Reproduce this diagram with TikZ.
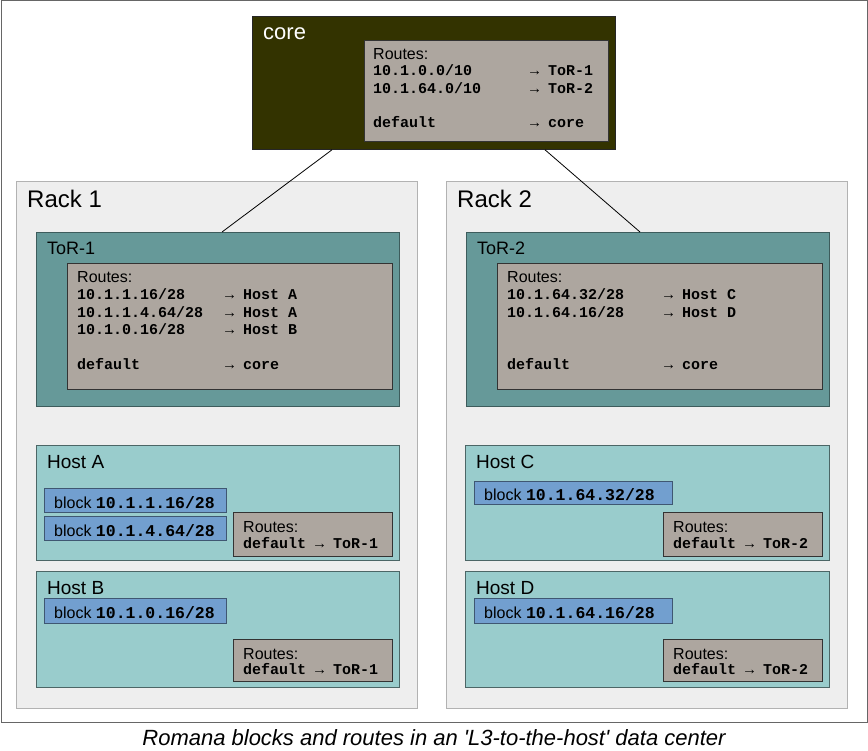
\documentclass[tikz,border=0pt]{standalone}
\usepackage{fontspec}
\setmainfont{Liberation Sans}
\setmonofont{Liberation Mono}
\usepackage{tikz}
\usetikzlibrary{positioning}
\usetikzlibrary{calc}

\definecolor{coreolive}{HTML}{333300}
\definecolor{routegray}{HTML}{ADA69F}
\definecolor{torteal}{HTML}{669999}
\definecolor{hostcyan}{HTML}{99CCCC}
\definecolor{blockblue}{HTML}{729FCF}
\definecolor{rackgray}{HTML}{EEEEEE}

\newcommand{\sanstext}{\fontsize{16}{18}\selectfont}
\newcommand{\monotext}{\fontsize{15}{17}\ttfamily\bfseries}
\newcommand{\blockmono}{\fontsize{16.5}{18}\ttfamily\bfseries}
\newcommand{\rto}[3]{\makebox[#1][l]{#2}\textrightarrow\ #3}

\tikzset{
  box/.style={rectangle,draw,line width=0.8pt,inner sep=0pt,anchor=north west},
  rackbox/.style={box,draw=black!30,fill=rackgray},
  corebox/.style={box,draw=black!85,fill=coreolive},
  torbox/.style={box,draw=torteal!60!black,fill=torteal},
  hostbox/.style={box,draw=hostcyan!50!black,fill=hostcyan},
  blockbox/.style={box,draw=blockblue!55!black,fill=blockblue},
  routebox/.style={box,draw=black!80,fill=routegray},
  lbl/.style={anchor=base west,inner sep=0pt},
  conn/.style={draw=black,line width=0.8pt}
}

\begin{document}
\begin{tikzpicture}[x=1pt,y=-1pt]
\useasboundingbox (0,0) rectangle (868,751);
\path (0.5,0.5) node(frame) [box,draw=black!60,minimum width=866pt,minimum height=721pt]{};

% racks
\path (16,181) node(rack1) [rackbox,minimum width=401pt,minimum height=527pt]{};
\path (446,181) node(rack2) [rackbox,minimum width=401pt,minimum height=527pt]{};
\path ([shift={(11,27)}]rack1.north west) node(rack1lbl) [lbl,font=\fontsize{24}{28}\selectfont]{Rack 1};
\path ([shift={(11,27)}]rack2.north west) node(rack2lbl) [lbl,font=\fontsize{24}{28}\selectfont]{Rack 2};

% core
\path (252,16) node(core) [corebox,minimum width=363pt,minimum height=133pt]{};
\path ([shift={(11,24)}]core.north west) node(corelbl) [lbl,text=white,font=\fontsize{22}{26}\selectfont]{core};
\path (364,40) node(corert) [routebox,minimum width=244pt,minimum height=101pt]{};
\path ([shift={(9,20)}]corert.north west) node(corert0) [lbl,font=\sanstext]{Routes:};
\foreach \a/\b/\dy [count=\i] in {{10.1.0.0/10}/{ToR-1}/36,{10.1.64.0/10}/{ToR-2}/53.5,{default}/{core}/88}
  \path ([shift={(9,\dy)}]corert.north west) node(corert\i) [lbl,font=\monotext]{\rto{157pt}{\a}{\b}};

% top of rack 1
\path (36,232) node(tor1) [torbox,minimum width=363pt,minimum height=174pt]{};
\path ([shift={(11,23)}]tor1.north west) node(tor1lbl) [lbl,font=\fontsize{18}{22}\selectfont]{ToR-1};
\path (67,263) node(tor1rt) [routebox,minimum width=325pt,minimum height=126pt]{};
\path ([shift={(10,20)}]tor1rt.north west) node(tor1rt0) [lbl,font=\sanstext]{Routes:};
\foreach \a/\b/\dy [count=\i] in {{10.1.1.16/28}/{Host A}/37,{10.1.1.4.64/28}/{Host A}/54.5,{10.1.0.16/28}/{Host B}/72,{default}/{core}/107}
  \path ([shift={(10,\dy)}]tor1rt.north west) node(tor1rt\i) [lbl,font=\monotext]{\rto{148pt}{\a}{\b}};

% top of rack 2
\path (466,232) node(tor2) [torbox,minimum width=363pt,minimum height=174pt]{};
\path ([shift={(11,23)}]tor2.north west) node(tor2lbl) [lbl,font=\fontsize{18}{22}\selectfont]{ToR-2};
\path (497,263) node(tor2rt) [routebox,minimum width=325pt,minimum height=126pt]{};
\path ([shift={(10,20)}]tor2rt.north west) node(tor2rt0) [lbl,font=\sanstext]{Routes:};
\foreach \a/\b/\dy [count=\i] in {{10.1.64.32/28}/{Host C}/37,{10.1.64.16/28}/{Host D}/54.5,{default}/{core}/107}
  \path ([shift={(10,\dy)}]tor2rt.north west) node(tor2rt\i) [lbl,font=\monotext]{\rto{157pt}{\a}{\b}};

% hosts
\path (36,445) node(hosta) [hostbox,minimum width=363pt,minimum height=115pt]{};
\path ([shift={(11,23)}]hosta.north west) node(hostalbl) [lbl,font=\fontsize{19}{22}\selectfont]{Host A};
\path (44,488) node(blka1) [blockbox,minimum width=182pt,minimum height=24pt]{};
\path (44,516) node(blka2) [blockbox,minimum width=182pt,minimum height=24pt]{};
\path ([shift={(10,20)}]blka1.north west) node(blka1lbl) [lbl,font=\sanstext]{block {\blockmono 10.1.1.16/28}};
\path ([shift={(10,20)}]blka2.north west) node(blka2lbl) [lbl,font=\sanstext]{block {\blockmono 10.1.4.64/28}};
\path (233,512) node(hostart) [routebox,minimum width=159pt,minimum height=44pt]{};
\path ([shift={(10,20)}]hostart.north west) node(hostart0) [lbl,font=\sanstext]{Routes:};
\path ([shift={(10,36)}]hostart.north west) node(hostart1) [lbl,font=\monotext]{default \textrightarrow\ ToR-1};

\path (36,571) node(hostb) [hostbox,minimum width=363pt,minimum height=116pt]{};
\path ([shift={(11,23)}]hostb.north west) node(hostblbl) [lbl,font=\fontsize{19}{22}\selectfont]{Host B};
\path (44,598) node(blkb1) [blockbox,minimum width=182pt,minimum height=25pt]{};
\path ([shift={(10,20)}]blkb1.north west) node(blkb1lbl) [lbl,font=\sanstext]{block {\blockmono 10.1.0.16/28}};
\path (233,639) node(hostbrt) [routebox,minimum width=159pt,minimum height=42pt]{};
\path ([shift={(10,20)}]hostbrt.north west) node(hostbrt0) [lbl,font=\sanstext]{Routes:};
\path ([shift={(10,35)}]hostbrt.north west) node(hostbrt1) [lbl,font=\monotext]{default \textrightarrow\ ToR-1};

\path (465,445) node(hostc) [hostbox,minimum width=364pt,minimum height=115pt]{};
\path ([shift={(11,23)}]hostc.north west) node(hostclbl) [lbl,font=\fontsize{19}{22}\selectfont]{Host C};
\path (474,481) node(blkc1) [blockbox,minimum width=198pt,minimum height=23pt]{};
\path ([shift={(10,19)}]blkc1.north west) node(blkc1lbl) [lbl,font=\sanstext]{block {\blockmono 10.1.64.32/28}};
\path (663,512) node(hostcrt) [routebox,minimum width=159pt,minimum height=44pt]{};
\path ([shift={(10,20)}]hostcrt.north west) node(hostcrt0) [lbl,font=\sanstext]{Routes:};
\path ([shift={(10,36)}]hostcrt.north west) node(hostcrt1) [lbl,font=\monotext]{default \textrightarrow\ ToR-2};

\path (465,571) node(hostd) [hostbox,minimum width=364pt,minimum height=116pt]{};
\path ([shift={(11,23)}]hostd.north west) node(hostdlbl) [lbl,font=\fontsize{19}{22}\selectfont]{Host D};
\path (474,598) node(blkd1) [blockbox,minimum width=198pt,minimum height=25pt]{};
\path ([shift={(10,20)}]blkd1.north west) node(blkd1lbl) [lbl,font=\sanstext]{block {\blockmono 10.1.64.16/28}};
\path (663,639) node(hostdrt) [routebox,minimum width=159pt,minimum height=42pt]{};
\path ([shift={(10,20)}]hostdrt.north west) node(hostdrt0) [lbl,font=\sanstext]{Routes:};
\path ([shift={(10,35)}]hostdrt.north west) node(hostdrt1) [lbl,font=\monotext]{default \textrightarrow\ ToR-2};

% links
\draw[conn] ([xshift=80pt]core.south west) -- ([xshift=186pt]tor1.north west);
\draw[conn] ([xshift=293pt]core.south west) -- ([xshift=174pt]tor2.north west);

\path (434,745) node(caption) [anchor=base,font=\fontsize{22}{26}\selectfont\itshape]{Romana blocks and routes in an \textquotesingle L3-to-the-host\textquotesingle\ data center};
\end{tikzpicture}
\end{document}
